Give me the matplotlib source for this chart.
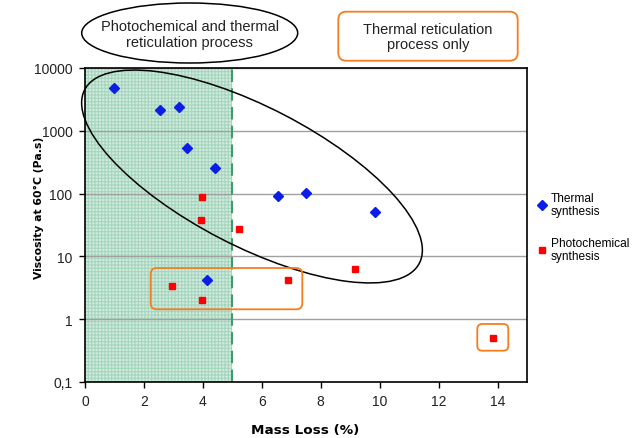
import matplotlib
matplotlib.use("Agg")
import matplotlib.pyplot as plt
from matplotlib.patches import Ellipse, FancyBboxPatch

# --- DATA ---
thermal_mass_loss = [1.0, 2.55, 3.2, 3.45, 4.4, 6.55, 7.5, 9.85, 4.15]
thermal_viscosity = [4800, 2150, 2430, 525, 252, 92, 102, 51, 4.2]

photo_mass_loss = [3.98, 3.92, 5.22, 2.94, 3.98, 6.9, 9.15, 13.85]
photo_viscosity = [89, 38, 27, 3.35, 2.0, 4.2, 6.3, 0.5]

y_ticks = [0.1, 1, 10, 100, 1000, 10000]
y_tick_labels = ["0,1", "1", "10", "100", "1000", "10000"]
x_ticks = [0, 2, 4, 6, 8, 10, 12, 14]
photo_limit = 5  # % mass loss bounding the photochemical + thermal zone

plt.rcParams["font.family"] = ["Liberation Sans", "DejaVu Sans"]
plt.rcParams["hatch.linewidth"] = 0.8

fig = plt.figure(figsize=(6.32, 4.39), dpi=100)
ax = fig.add_axes([0.1345, 0.1276, 0.6994, 0.7153])

# green zone + dashed limit
ax.axvspan(0, photo_limit, facecolor="#d2ebdf", edgecolor="#a6d5bd",
           hatch="+++++", lw=0, zorder=0)
ax.axvline(photo_limit, color="#3d9c6c", ls=(0, (6, 3)), lw=1.5, zorder=1)

ax.plot(thermal_mass_loss, thermal_viscosity, ls="none", marker="D", ms=5.5,
        color="#0a1ee6", label="Thermal\nsynthesis", zorder=3)
ax.plot(photo_mass_loss, photo_viscosity, ls="none", marker="s", ms=5,
        color="#ff0000", label="Photochemical\nsynthesis", zorder=3)

ax.set_yscale("log")
ax.set_ylim(0.1, 10000)
ax.set_xlim(0, 15)
ax.set_yticks(y_ticks)
ax.set_yticklabels(y_tick_labels)
ax.yaxis.set_minor_locator(matplotlib.ticker.NullLocator())
ax.set_xticks(x_ticks)
ax.tick_params(direction="out", length=4, width=1, labelsize=10, pad=5,
               colors="black", labelcolor="#222222")
ax.yaxis.grid(True, color="#a0a0a0", lw=1)
ax.set_axisbelow(True)
for s in ax.spines.values():
    s.set_color("black")
    s.set_linewidth(1.2)

ax.set_xlabel("Mass Loss (%)", fontsize=9.7, fontweight="bold",
              family="DejaVu Sans", va="top")
ax.xaxis.set_label_coords(0.499, -0.132)
ax.set_ylabel("Viscosity at 60°C (Pa.s)", fontsize=7.8, fontweight="bold",
              family="DejaVu Sans")
ax.yaxis.set_label_coords(-0.092, 0.557)

fig.legend(loc="upper left", bbox_to_anchor=(0.845, 0.572), frameon=False,
           fontsize=8.6, handlelength=0.6, handletextpad=0.4, labelspacing=1.6,
           borderaxespad=0)

# --- annotation shapes, drawn in pixel space of the figure ---
ov = fig.add_axes([0, 0, 1, 1], zorder=5)
ov.set_xlim(0, 632)
ov.set_ylim(439, 0)
ov.axis("off")
ov.patch.set_alpha(0)

ov.add_patch(Ellipse((252, 177.5), 377, 139, angle=27.4, fill=False,
                     ec="black", lw=1.1))
ov.add_patch(Ellipse((189.7, 34), 216, 60, fill=False, ec="black", lw=1.1))
ov.text(189.7, 35, "Photochemical and thermal\nreticulation process",
        ha="center", va="center", fontsize=10.5, linespacing=1.1,
        color="#222222")

orange = "#f47d20"
ov.add_patch(FancyBboxPatch((338.3, 12.7), 179.4, 49, boxstyle="round,pad=0,rounding_size=8",
                            fill=False, ec=orange, lw=1.3))
ov.text(428, 37.5, "Thermal reticulation\nprocess only", ha="center", va="center",
        fontsize=10.5, linespacing=1.1, color="#222222")
ov.add_patch(FancyBboxPatch((150.7, 269), 151.6, 41.3, boxstyle="round,pad=0,rounding_size=6",
                            fill=False, ec=orange, lw=1.3))
ov.add_patch(FancyBboxPatch((477.3, 325), 31, 26.7, boxstyle="round,pad=0,rounding_size=5",
                            fill=False, ec=orange, lw=1.3))

fig.savefig("out.png", dpi=100)
